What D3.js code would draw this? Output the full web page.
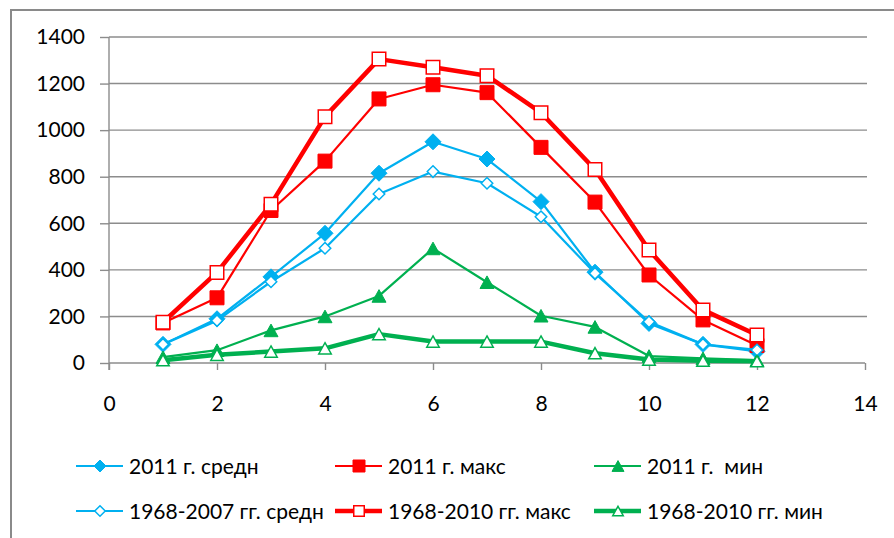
<!DOCTYPE html>
<html>
<head>
<meta charset="utf-8">
<script src="https://cdn.jsdelivr.net/npm/d3@7"></script>
<style>
  html, body { margin: 0; padding: 0; background: #fff; }
  svg { display: block; }
  text { font-family: Lato, "Open Sans", sans-serif; fill: #000; }
</style>
</head>
<body>
<svg id="chart" width="894" height="538"></svg>
<script>
// ---- data ----
const months = [1, 2, 3, 4, 5, 6, 7, 8, 9, 10, 11, 12];
const avg2011 = [80, 190, 370, 557, 815, 950, 876, 693, 390, 170, 80, 50];
const max2011 = [172, 280, 655, 867, 1134, 1195, 1161, 926, 691, 378, 185, 75];
const min2011 = [25, 55, 140, 200, 288, 492, 347, 203, 155, 30, 20, 12];
const avgLong = [80, 182, 349, 493, 726, 822, 772, 628, 385, 177, 80, 56];
const maxLong = [175, 389, 682, 1058, 1305, 1270, 1234, 1075, 831, 485, 228, 120];
const minLong = [12, 35, 49, 63, 124, 92, 92, 92, 42, 15, 10, 8];
const seriesNames = ["2011 г. средн", "2011 г. макс", "2011 г.  мин",
                     "1968-2007 гг. средн", "1968-2010 гг. макс", "1968-2010 гг. мин"];
const xTicks = [0, 2, 4, 6, 8, 10, 12, 14];
const yTicks = [0, 200, 400, 600, 800, 1000, 1200, 1400];

const BLUE = "#00B0F0", RED = "#FF0000", GREEN = "#00B050";
const series = [
  { name: seriesNames[0], values: avg2011, color: BLUE,  width: 2.2, marker: "diamond",  filled: true,  size: 16 },
  { name: seriesNames[1], values: max2011, color: RED,   width: 2.2, marker: "square",   filled: true,  size: 14 },
  { name: seriesNames[2], values: min2011, color: GREEN, width: 2.2, marker: "triangle", filled: true,  size: 14 },
  { name: seriesNames[3], values: avgLong, color: BLUE,  width: 2.2, marker: "diamond",  filled: false, size: 13 },
  { name: seriesNames[4], values: maxLong, color: RED,   width: 4.5, marker: "square",   filled: false, size: 15 },
  { name: seriesNames[5], values: minLong, color: GREEN, width: 4.5, marker: "triangle", filled: false, size: 14 }
];

const svg = d3.select("#chart");
svg.append("rect").attr("width", 894).attr("height", 538).attr("fill", "#fff");
// outer chart frame (clipped on right/bottom)
svg.append("rect").attr("x", 11).attr("y", 10).attr("width", 920).attr("height", 600)
  .attr("fill", "none").attr("stroke", "#8a8a8a").attr("stroke-width", 2);

const x = d3.scaleLinear().domain([0, 14]).range([109, 865]);
const y = d3.scaleLinear().domain([0, 1400]).range([363, 37]);

// gridlines
svg.append("g").selectAll("line").data(yTicks.filter(v => v > 0)).join("line")
  .attr("x1", x(0)).attr("x2", 867).attr("y1", d => y(d)).attr("y2", d => y(d))
  .attr("stroke", "#8c8c8c").attr("stroke-width", 1.4);

// y axis
const yAxis = svg.append("g").attr("transform", `translate(${x(0)},0)`)
  .call(d3.axisLeft(y).tickValues(yTicks).tickSize(9).tickPadding(15).tickFormat(d3.format("d")));
yAxis.select(".domain").attr("stroke", "#8c8c8c").attr("stroke-width", 1.4).attr("d", `M0,${y(1400)}V${y(0) + 7}`);
yAxis.selectAll(".tick line").attr("stroke", "#8c8c8c").attr("stroke-width", 1.4);
yAxis.selectAll("text").attr("font-size", 21).attr("font-family", "Lato").attr("fill", "#000");

// x axis
const xAxis = svg.append("g").attr("transform", `translate(0,${y(0)})`)
  .call(d3.axisBottom(x).tickValues(xTicks).tickSize(7).tickPadding(26).tickFormat(d3.format("d")));
xAxis.select(".domain").attr("stroke", "#8c8c8c").attr("stroke-width", 1.4).attr("d", `M${x(0)},0H${x(14)}`);
xAxis.selectAll(".tick line").attr("stroke", "#8c8c8c").attr("stroke-width", 1.4);
xAxis.selectAll("text").attr("font-size", 21).attr("font-family", "Lato").attr("fill", "#000");

function markerPath(type, s) {
  const h = s / 2;
  if (type === "diamond") return `M0,${-h}L${h},0L0,${h}L${-h},0Z`;
  if (type === "square") return `M${-h},${-h}H${h}V${h}H${-h}Z`;
  // triangle centered on bbox
  const th = s * 0.9 / 2;
  return `M0,${-th}L${h},${th}L${-h},${th}Z`;
}

const line = d3.line().x((d, i) => x(months[i])).y(d => y(d));

series.forEach(s => {
  const g = svg.append("g");
  g.append("path").datum(s.values).attr("d", line)
    .attr("fill", "none").attr("stroke", s.color).attr("stroke-width", s.width)
    .attr("stroke-linejoin", "round");
  g.selectAll("path.m").data(s.values).join("path").attr("class", "m")
    .attr("transform", (d, i) => `translate(${x(months[i])},${y(d)})`)
    .attr("d", markerPath(s.marker, s.filled ? s.size : s.size - 1.5))
    .attr("fill", s.filled ? s.color : "#fff")
    .attr("stroke", s.color).attr("stroke-width", s.filled ? 1 : 1.5);
});

// legend
const legCols = [76, 335, 594];
const legRows = [466, 511];
series.forEach((s, i) => {
  const cx = legCols[i % 3], cy = legRows[Math.floor(i / 3)];
  const g = svg.append("g").attr("transform", `translate(${cx},${cy})`);
  g.append("line").attr("x1", 0).attr("x2", 47).attr("y1", 0).attr("y2", 0)
    .attr("stroke", s.color).attr("stroke-width", s.width);
  const ms = 12;
  g.append("path").attr("transform", "translate(24,0)")
    .attr("d", markerPath(s.marker, s.filled ? ms : ms - 1.5))
    .attr("fill", s.filled ? s.color : "#fff")
    .attr("stroke", s.color).attr("stroke-width", s.filled ? 1 : 1.5);
  g.append("text").attr("x", 53).attr("y", 0).attr("dy", "0.36em")
    .attr("font-size", 21).style("white-space", "pre").text(s.name);
});
</script>
</body>
</html>
